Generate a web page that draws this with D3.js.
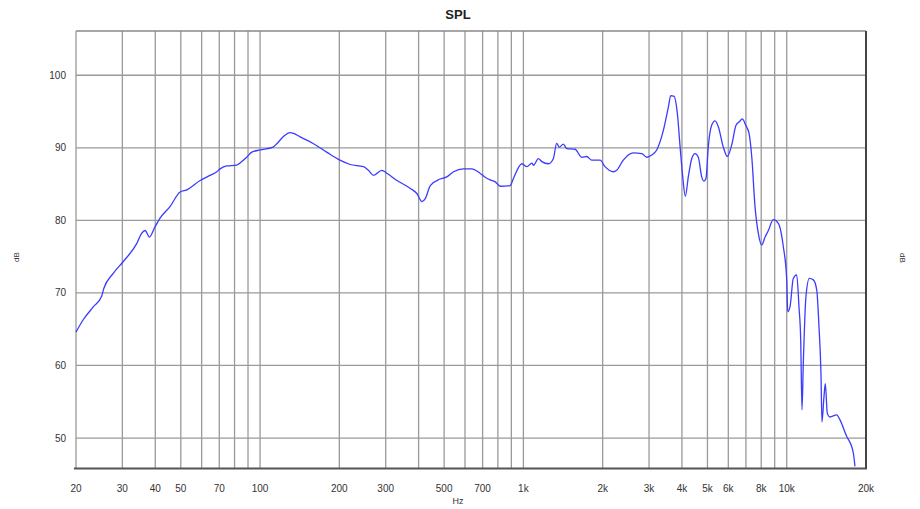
<!DOCTYPE html>
<html>
<head>
<meta charset="utf-8">
<script src="https://cdn.jsdelivr.net/npm/d3@7"></script>
<style>
  body { margin: 0; background: #fff; }
  svg { display: block; font-family: "Liberation Sans", Arial, sans-serif; }
</style>
</head>
<body>
<div class="spl-page"></div>
<script>
// measured frequency response (Hz / dB)
const freqs = [20, 21.3, 23.3, 25.0, 25.5, 27.7, 30.2, 34.0, 35.5, 36.6, 38.0, 39.9, 41.7, 45.5, 49.7, 52.7, 59.2, 64.6, 68.5, 70.5,
  74.7, 81.5, 85.2, 89.0, 93.0, 100, 112, 116, 123, 130, 134, 142, 159, 179, 201, 220, 247, 258, 270, 290,
  303, 331, 372, 394, 412, 424, 443, 483, 512, 543, 592, 637, 684, 726, 759, 782, 817, 891, 917, 987,
  1031, 1077, 1092, 1140, 1175, 1245, 1299, 1338, 1369, 1418, 1460, 1571, 1666, 1740, 1818, 1955, 2042, 2196, 2261, 2395,
  2615, 2814, 2941, 3071, 3208, 3400, 3552, 3628, 3734, 3844, 3937, 4028, 4121, 4229, 4357, 4484, 4616, 4754, 4851, 4937,
  5035, 5187, 5341, 5498, 5743, 5948, 6181, 6418, 6608, 6784, 6988, 7193, 7364, 7579, 7802, 8035, 8275, 8518, 8890, 9290,
  9705, 10000, 10086, 10291, 10590, 10910, 11130, 11300, 11430, 11560, 11830, 12186, 12620, 13000, 13260, 13490, 13610, 13850, 14010, 14260,
  14590, 15480, 15930, 16900, 17660, 17910, 18160];

const splValues = [64.6, 66.3, 68.1, 69.5, 70.6, 72.7, 74.3, 76.8, 78.2, 78.6, 77.7, 79.1, 80.3, 81.9, 83.9, 84.2, 85.5, 86.2, 86.7, 87.1,
  87.5, 87.6, 88.1, 88.7, 89.4, 89.7, 90.1, 90.6, 91.6, 92.1, 92.0, 91.5, 90.6, 89.4, 88.3, 87.7, 87.4, 86.9, 86.2, 86.9,
  86.5, 85.5, 84.4, 83.7, 82.6, 83.0, 84.8, 85.7, 86.0, 86.7, 87.1, 87.1, 86.5, 85.8, 85.5, 85.3, 84.7, 84.8, 85.8, 87.8,
  87.4, 87.9, 87.6, 88.5, 88.1, 87.8, 88.5, 90.6, 90.1, 90.5, 89.9, 89.8, 88.7, 88.8, 88.3, 88.3, 87.4, 86.7, 86.9, 88.3,
  89.3, 89.2, 88.7, 89.0, 89.7, 92.4, 95.6, 97.2, 97.1, 94.7, 90.1, 86.0, 83.3, 86.0, 88.5, 89.2, 88.7, 86.0, 85.4, 85.8,
  90.1, 93.1, 93.7, 92.9, 90.1, 88.8, 90.4, 93.1, 93.6, 94.0, 93.1, 92.0, 88.8, 81.9, 78.2, 76.6, 77.7, 78.6, 80.1, 79.6,
  76.4, 71.8, 67.4, 68.1, 72.0, 72.5, 68.1, 63.5, 53.9, 60.3, 69.5, 72.0, 71.8, 70.4, 65.3, 58.9, 52.2, 55.7, 57.5, 53.4,
  52.9, 53.2, 52.5, 50.2, 48.8, 47.9, 46.1];

const xTickValues = [20, 30, 40, 50, 70, 100, 200, 300, 500, 700, 1000, 2000, 3000, 4000, 5000, 6000, 8000, 10000, 20000];
const yTickValues = [50, 60, 70, 80, 90, 100];

let width = 920, height = 509;
let plotLeft = 76, plotRight = 866, plotTop = 31, plotBottom = 468.5;

let svg = d3.select(".spl-page")
  .append("svg")
  .attr("width", width)
  .attr("height", height);

let x = d3.scaleLog().domain([20, 20000]).range([plotLeft, plotRight]);
let y = d3.scaleLinear().domain([45.8, 106.1]).range([plotBottom, plotTop]);

// grid lines at every 1..9 step of each decade
let gridFreqs = [];
[10, 100, 1000, 10000].forEach(function(dec) {
  for (let i = 1; i <= 9; i++) {
    let f = dec * i;
    if (f > 20 && f < 20000) gridFreqs.push(f);
  }
});

svg.append("g")
  .selectAll("line")
  .data(gridFreqs)
  .enter().append("line")
  .attr("x1", d => x(d)).attr("x2", d => x(d))
  .attr("y1", plotTop).attr("y2", plotBottom)
  .attr("stroke", "#9a9a9a")
  .attr("stroke-width", 1.3);

svg.append("g")
  .selectAll("line")
  .data(yTickValues)
  .enter().append("line")
  .attr("x1", plotLeft).attr("x2", plotRight)
  .attr("y1", d => y(d)).attr("y2", d => y(d))
  .attr("stroke", "#9a9a9a")
  .attr("stroke-width", 1.3);

// frame: light top/left, heavy bottom/right
svg.append("line").attr("x1", plotLeft).attr("x2", plotRight).attr("y1", plotTop).attr("y2", plotTop)
  .attr("stroke", "#888").attr("stroke-width", 1.5);
svg.append("line").attr("x1", plotLeft).attr("x2", plotLeft).attr("y1", plotTop).attr("y2", plotBottom)
  .attr("stroke", "#999").attr("stroke-width", 1.3);
svg.append("line").attr("x1", plotLeft - 2).attr("x2", plotRight + 1).attr("y1", plotBottom).attr("y2", plotBottom)
  .attr("stroke", "#555").attr("stroke-width", 2);
svg.append("line").attr("x1", plotRight).attr("x2", plotRight).attr("y1", plotTop).attr("y2", plotBottom)
  .attr("stroke", "#444").attr("stroke-width", 2);

// tick labels
let fmtHz = function(d) { return d >= 1000 ? (d / 1000) + "k" : String(d); };

svg.append("g")
  .selectAll("text")
  .data(xTickValues)
  .enter().append("text")
  .attr("x", d => x(d))
  .attr("y", 492)
  .attr("text-anchor", "middle")
  .attr("font-size", 10)
  .attr("fill", "#333")
  .text(fmtHz);

svg.append("g")
  .selectAll("text")
  .data(yTickValues)
  .enter().append("text")
  .attr("x", 66)
  .attr("y", d => y(d) + 3.5)
  .attr("text-anchor", "end")
  .attr("font-size", 10)
  .attr("fill", "#333")
  .text(d => d);

// titles
svg.append("text")
  .attr("x", 458).attr("y", 19)
  .attr("text-anchor", "middle")
  .attr("font-size", 13)
  .attr("font-weight", "bold")
  .attr("fill", "#222")
  .text("SPL");

svg.append("text")
  .attr("x", 458).attr("y", 504)
  .attr("text-anchor", "middle")
  .attr("font-size", 9)
  .attr("fill", "#333")
  .text("Hz");

svg.append("text")
  .attr("transform", "translate(19,257) rotate(-90)")
  .attr("text-anchor", "middle")
  .attr("font-size", 8)
  .attr("fill", "#333")
  .text("dB");

svg.append("text")
  .attr("transform", "translate(900,258) rotate(90)")
  .attr("text-anchor", "middle")
  .attr("font-size", 8)
  .attr("fill", "#333")
  .text("dB");

// response curve
let pts = freqs.map(function(f, i) { return { f: f, v: splValues[i] }; });

let line = d3.line()
  .x(d => x(d.f))
  .y(d => y(d.v))
  .curve(d3.curveMonotoneX);

svg.append("path")
  .datum(pts)
  .attr("fill", "none")
  .attr("stroke", "#3b3bff")
  .attr("stroke-width", 1.3)
  .attr("d", line);
</script>
</body>
</html>
